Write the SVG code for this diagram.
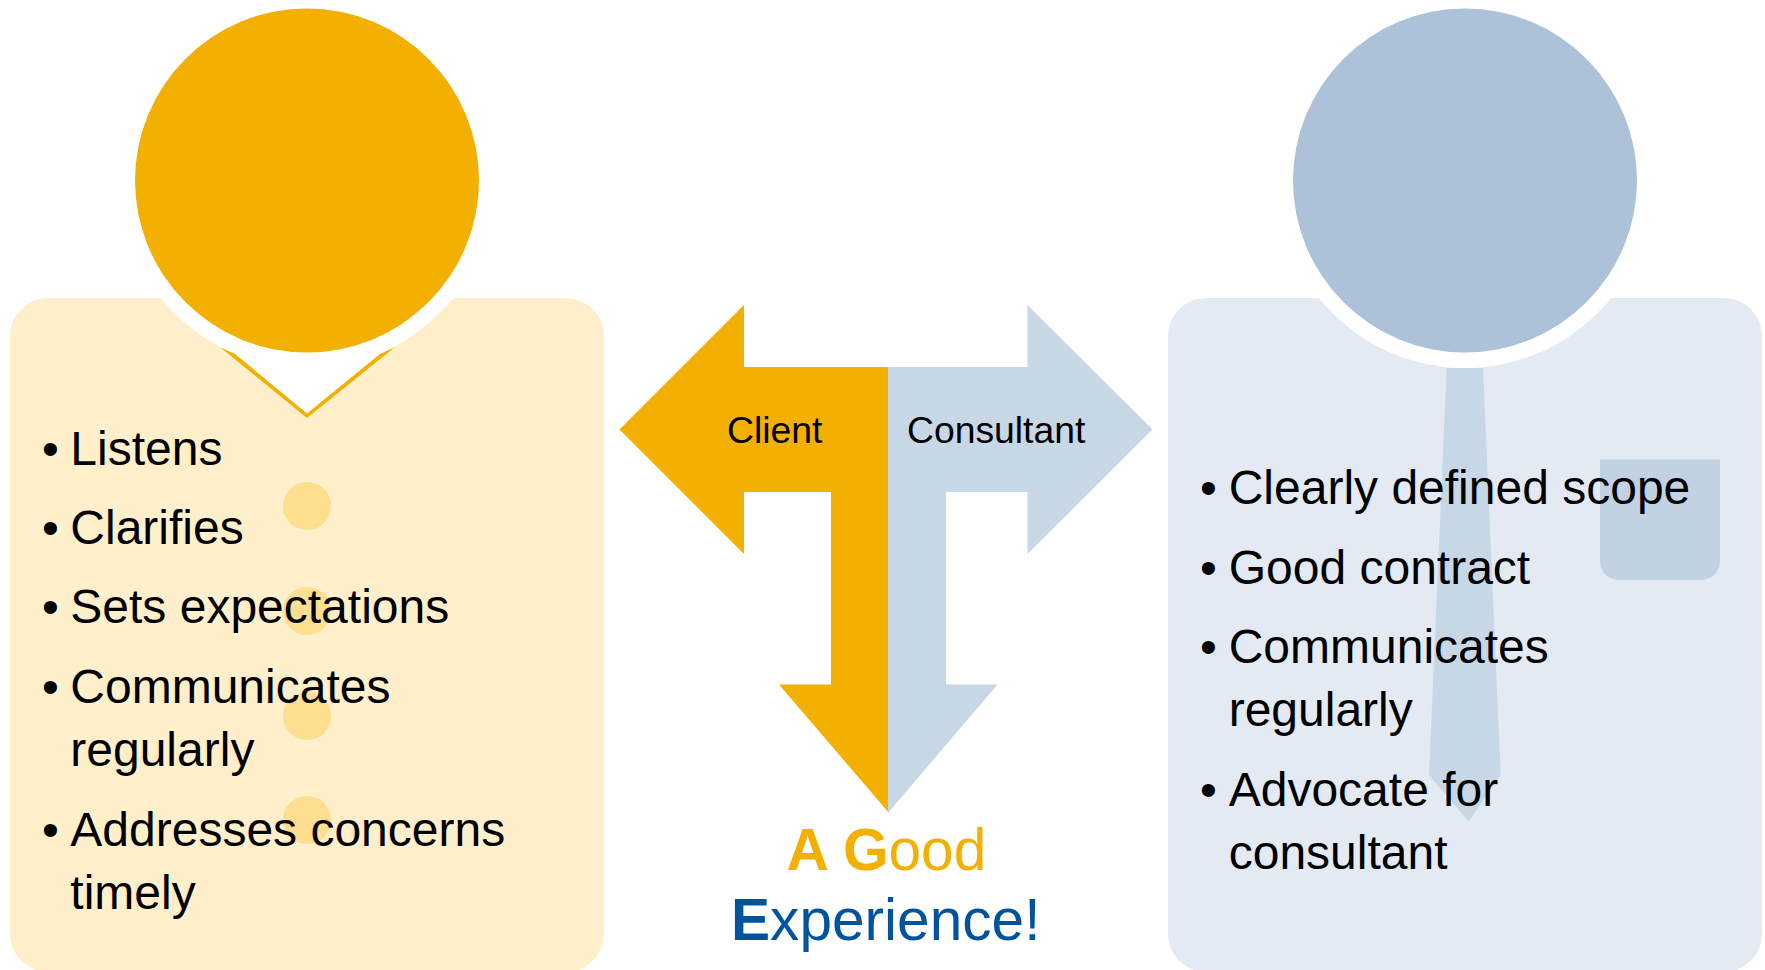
<svg xmlns="http://www.w3.org/2000/svg" width="1765" height="970" viewBox="0 0 1765 970">
<style>
text{font-family:"Liberation Sans",Arial,sans-serif;fill:#000}
.li{font-size:48px}
.ar{font-size:37.3px}
.big{font-size:58.6px}
.gold{fill:#F3B000}
.lblue{fill:#C7D7E5}
.blue{fill:#00539F}
.b{font-weight:bold}
.btn{fill:#FEDF90}
.halo{fill:#fff}
</style>
<rect width="1765" height="970" fill="#fff"/>
<g id="client-figure">
<rect x="10" y="298" width="594" height="674" rx="38" ry="38" fill="#FFEFCA"/>
<circle class="halo" cx="307" cy="180.5" r="187.5"/>
<path class="halo" d="M220 347L307 417L395 347Z"/>
<path class="gold" d="M220 347L307 418L395 347L380 354L307 413.5L235 354Z"/>
<circle class="gold" cx="307" cy="180.5" r="172"/>
<circle class="btn" cx="307" cy="506" r="24"/>
<circle class="btn" cx="307" cy="611" r="24"/>
<circle class="btn" cx="307" cy="716" r="24"/>
<circle class="btn" cx="307" cy="820" r="24"/>
<text class="li" x="42" y="464.5">•</text><text class="li" x="70.3" y="464.5">Listens</text>
<text class="li" x="42" y="543.5">•</text><text class="li" x="70.3" y="543.5">Clarifies</text>
<text class="li" x="42" y="622.5">•</text><text class="li" x="70.3" y="622.5">Sets expectations</text>
<text class="li" x="42" y="703">•</text><text class="li" x="70.3" y="703">Communicates</text>
<text class="li" x="70.3" y="766">regularly</text>
<text class="li" x="42" y="846">•</text><text class="li" x="70.3" y="846">Addresses concerns</text>
<text class="li" x="70.3" y="909">timely</text>
</g>
<g id="consultant-figure">
<rect x="1168" y="298" width="594" height="674" rx="38" ry="38" fill="#E3EAF3"/>
<circle class="halo" cx="1465" cy="180.5" r="187.5"/>
<circle cx="1465" cy="180.5" r="172" fill="#ACC2D8"/>
<path d="M1446.7 368H1483L1500.7 775L1468.6 821.5L1429 775Z" fill="#C7D7E5"/>
<path d="M1600 459.5H1720V561a19 19 0 0 1-19 19H1619a19 19 0 0 1-19-19Z" fill="#C2D2E2"/>
<text class="li" x="1200" y="504">•</text><text class="li" x="1228.7" y="504">Clearly defined scope</text>
<text class="li" x="1200" y="583.5">•</text><text class="li" x="1228.7" y="583.5">Good contract</text>
<text class="li" x="1200" y="662.5">•</text><text class="li" x="1228.7" y="662.5">Communicates</text>
<text class="li" x="1228.7" y="726">regularly</text>
<text class="li" x="1200" y="805.5">•</text><text class="li" x="1228.7" y="805.5">Advocate for</text>
<text class="li" x="1228.7" y="869">consultant</text>
</g>
<g id="connectors">
<path class="gold" d="M889 367H744V305L619.5 429.5L744 554V492H831V684.5H779L889 813Z"/>
<path class="lblue" d="M888 367H1027.5V305L1152.5 429.5L1027.5 554V492H946V684.5H997.5L888 813Z"/>
</g>
<g id="arrow-labels">
<text class="ar" x="727" y="442.5">Client</text>
<text class="ar" x="907" y="442.5">Consultant</text>
</g>
<g id="caption">
<text class="big gold" x="786.5" y="869.5"><tspan class="b">A G</tspan>ood</text>
<text class="big blue" x="731" y="939.5"><tspan class="b">E</tspan>xperience!</text>
</g>
</svg>
